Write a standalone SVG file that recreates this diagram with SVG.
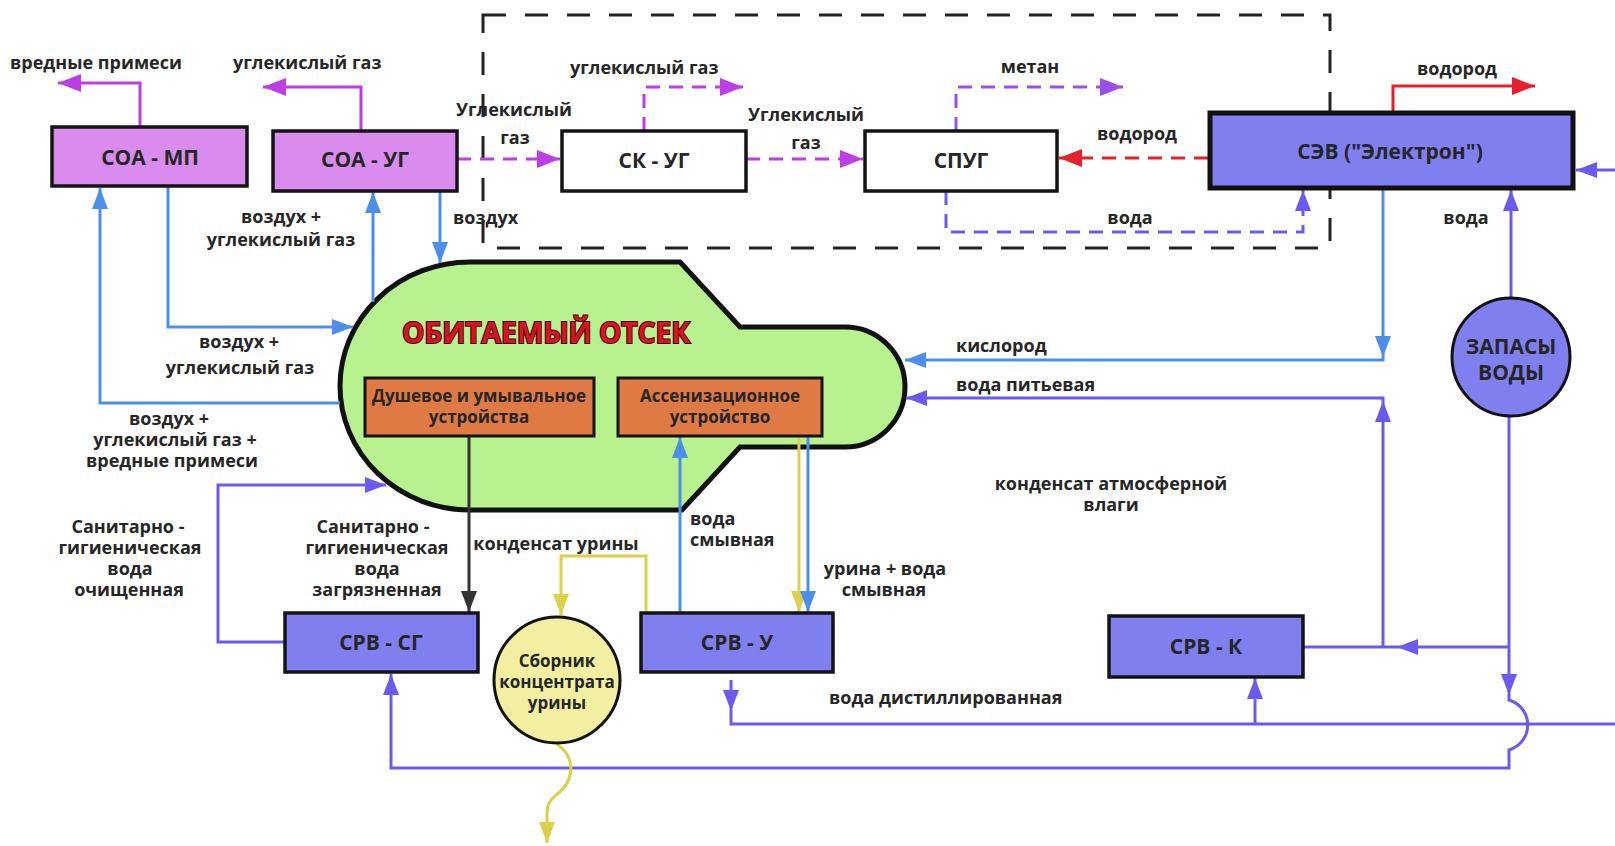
<svg xmlns="http://www.w3.org/2000/svg" width="1615" height="846" viewBox="0 0 1615 846">
<style>
text{font-family:"Open Sans","Liberation Sans",sans-serif;font-weight:700;fill:#262626}
.lb{font-size:18px}
.bx{font-size:21px;text-anchor:middle}
.sm{font-size:17px;text-anchor:middle}
.c{text-anchor:middle}
.ln{fill:none;stroke-width:3}
.mg{stroke:#BC3FE6}
.vd{stroke:#9B4FEA}
.bl{stroke:#4B8FEA}
.vi{stroke:#6A5AF0}
.rd{stroke:#E4202C}
.ye{stroke:#DCD04A}
.bk{stroke:#333}
.ds{stroke-dasharray:14 9}
.box{stroke:#141414;stroke-width:3.5}
.soa{fill:#D98CEE}
.srv{fill:#7F7FF0}
.org{fill:#E07A45;stroke:#141414;stroke-width:3}
</style>
<defs>
<marker id="aM" markerUnits="userSpaceOnUse" markerWidth="24" markerHeight="18" refX="23" refY="9" orient="auto"><path d="M0,0L23,9L0,18z" fill="#BC3FE6"/></marker>
<marker id="aV" markerUnits="userSpaceOnUse" markerWidth="24" markerHeight="18" refX="23" refY="9" orient="auto"><path d="M0,0L23,9L0,18z" fill="#9B4FEA"/></marker>
<marker id="aB" markerUnits="userSpaceOnUse" markerWidth="22" markerHeight="16" refX="21" refY="8" orient="auto"><path d="M0,0L21,8L0,16z" fill="#4B8FEA"/></marker>
<marker id="aI" markerUnits="userSpaceOnUse" markerWidth="22" markerHeight="16" refX="21" refY="8" orient="auto"><path d="M0,0L21,8L0,16z" fill="#6A5AF0"/></marker>
<marker id="aR" markerUnits="userSpaceOnUse" markerWidth="24" markerHeight="18" refX="23" refY="9" orient="auto"><path d="M0,0L23,9L0,18z" fill="#E4202C"/></marker>
<marker id="aY" markerUnits="userSpaceOnUse" markerWidth="22" markerHeight="16" refX="21" refY="8" orient="auto"><path d="M0,0L21,8L0,16z" fill="#DCD04A"/></marker>
<marker id="aK" markerUnits="userSpaceOnUse" markerWidth="22" markerHeight="16" refX="21" refY="8" orient="auto"><path d="M0,0L21,8L0,16z" fill="#333"/></marker>
</defs>
<rect width="1615" height="846" fill="#fff"/>
<rect id="boundary" x="483" y="15" width="847" height="233" fill="none" stroke="#222" stroke-width="3" stroke-dasharray="23 19"/>

<g id="habitat">
<path d="M470,262 L680,262 L740,327 L845,327 A60,60 0 0 1 845,447 L740,447 L682,510 L470,510 A130,124 0 0 1 470,262 Z" fill="#B7F28F" stroke="#111" stroke-width="5"/>
<text x="546" y="343" font-size="28" font-weight="800" textLength="288" lengthAdjust="spacingAndGlyphs" text-anchor="middle" style="fill:#D9141E;stroke:#3a0505;stroke-width:2;paint-order:stroke">ОБИТАЕМЫЙ ОТСЕК</text>
</g>

<g id="connectors">
<path class="ln mg" d="M140,127V83H58" marker-end="url(#aM)"/>
<path class="ln mg" d="M361,131V87H263" marker-end="url(#aM)"/>
<path class="ln mg ds" d="M457,159H560" marker-end="url(#aM)"/>
<path class="ln mg ds" d="M644,131V87H743" marker-end="url(#aM)"/>
<path class="ln mg ds" d="M746,159H863" marker-end="url(#aM)"/>
<path class="ln vd ds" d="M956,131V87H1123" marker-end="url(#aV)"/>
<path class="ln rd ds" d="M1208,158H1059" marker-end="url(#aR)"/>
<path class="ln rd" d="M1393,113V86H1535" marker-end="url(#aR)"/>
<path class="ln vi ds" d="M946,191V232H1303V190" marker-end="url(#aI)"/>
<path class="ln bl" d="M1383,188V360H905" marker-end="url(#aB)"/>
<path d="M1375,336L1391,336L1383,357z" fill="#4B8FEA"/>
<path class="ln vi" d="M1511,298V190" marker-end="url(#aI)"/>
<path class="ln vi" d="M1615,170H1576" marker-end="url(#aI)"/>
<path class="ln vi" d="M1509,417V700C1534,708 1534,742 1509,750V768H391V674" marker-end="url(#aI)"/>
<path d="M1501,674L1517,674L1509,695z" fill="#6A5AF0"/>
<path class="ln vi" d="M1303,647H1509"/>
<path d="M1397,647L1418,639L1418,655z" fill="#6A5AF0"/>
<path class="ln vi" d="M1383,647V398H906" marker-end="url(#aI)"/>
<path d="M1383,401L1375,422L1391,422z" fill="#6A5AF0"/>
<path class="ln vi" d="M731,680V724H1615"/>
<path d="M723,690L739,690L731,711z" fill="#6A5AF0"/>
<path class="ln vi" d="M1255,724V678" marker-end="url(#aI)"/>
<path class="ln vi" d="M285,642H218V485H386" marker-end="url(#aI)"/>
<path class="ln bl" d="M168,186V327H353" marker-end="url(#aB)"/>
<path class="ln bl" d="M340,403H100V188" marker-end="url(#aB)"/>
<path class="ln bl" d="M373,302V192" marker-end="url(#aB)"/>
<path class="ln bl" d="M440,191V263" marker-end="url(#aB)"/>
<path class="ln bk" d="M469,436V612" marker-end="url(#aK)"/>
<path class="ln bl" d="M680,613V437" marker-end="url(#aB)"/>
<path class="ln ye" d="M799,436V612" marker-end="url(#aY)"/>
<path class="ln bl" d="M808,436V612" marker-end="url(#aB)"/>
<path class="ln ye" d="M646,613V556H561V615" marker-end="url(#aY)"/>
<path class="ln ye" d="M557,744C577,758 574,782 556,795C546,803 547,810 547,820V843" marker-end="url(#aY)"/>
</g>

<g id="labels">
<text class="lb" x="10" y="69">вредные примеси</text>
<text class="lb" x="233" y="69">углекислый газ</text>
<text class="lb c" x="281" y="223">воздух +<tspan x="281" dy="23">углекислый газ</tspan></text>
<text class="lb" x="453" y="224">воздух</text>
<text class="lb c" x="514" y="116">Углекислый<tspan x="515" dy="28">газ</tspan></text>
<text class="lb" x="570" y="74">углекислый газ</text>
<text class="lb c" x="806" y="121">Углекислый<tspan x="806" dy="28">газ</tspan></text>
<text class="lb c" x="1030" y="73">метан</text>
<text class="lb c" x="1137" y="140">водород</text>
<text class="lb c" x="1457" y="75">водород</text>
<text class="lb c" x="1130" y="224">вода</text>
<text class="lb c" x="1466" y="224">вода</text>
<text class="lb" x="956" y="352">кислород</text>
<text class="lb" x="956" y="391">вода питьевая</text>
<text class="lb c" x="1111" y="490">конденсат атмосферной<tspan x="1111" dy="21">влаги</tspan></text>
<text class="lb c" x="239" y="348">воздух +<tspan x="240" dy="26">углекислый газ</tspan></text>
<text class="lb c" x="169" y="425">воздух +<tspan x="175" dy="21">углекислый газ +</tspan><tspan x="172" dy="21">вредные примеси</tspan></text>
<text class="lb c" x="128" y="533">Санитарно -<tspan x="130" dy="21">гигиеническая</tspan><tspan x="130" dy="21">вода</tspan><tspan x="129" dy="21">очищенная</tspan></text>
<text class="lb c" x="373" y="533">Санитарно -<tspan x="377" dy="21">гигиеническая</tspan><tspan x="377" dy="21">вода</tspan><tspan x="377" dy="21">загрязненная</tspan></text>
<text class="lb c" x="556" y="550">конденсат урины</text>
<text class="lb" x="690" y="525">вода<tspan x="690" dy="21">смывная</tspan></text>
<text class="lb c" x="885" y="575">урина + вода<tspan x="884" dy="21">смывная</tspan></text>
<text class="lb" x="829" y="704">вода дистиллированная</text>
</g>

<g id="soa-mp"><rect class="box soa" x="52" y="127" width="195" height="59"/><text class="bx" x="150" y="165">СОА - МП</text></g>
<g id="soa-ug"><rect class="box soa" x="273" y="131" width="184" height="60"/><text class="bx" x="365" y="167">СОА - УГ</text></g>
<g id="sk-ug"><rect class="box" fill="#fff" x="562" y="131" width="184" height="60"/><text class="bx" x="654" y="168">СК - УГ</text></g>
<g id="spug"><rect class="box" fill="#fff" x="865" y="131" width="192" height="60"/><text class="bx" x="961" y="168">СПУГ</text></g>
<g id="sev"><rect class="srv" stroke="#111" stroke-width="5" x="1210" y="113" width="363" height="75"/><text class="bx" x="1390" y="159">СЭВ ("Электрон")</text></g>
<g id="shower"><rect class="org" x="365" y="378" width="229" height="58"/><text class="sm" x="479" y="402">Душевое и умывальное<tspan x="479" dy="21">устройства</tspan></text></g>
<g id="toilet"><rect class="org" x="618" y="378" width="204" height="58"/><text class="sm" x="720" y="402">Ассенизационное<tspan x="720" dy="21">устройство</tspan></text></g>
<g id="srv-sg"><rect class="box srv" x="285" y="613" width="193" height="59"/><text class="bx" x="381" y="650">СРВ - СГ</text></g>
<g id="srv-u"><rect class="box srv" x="641" y="613" width="192" height="59"/><text class="bx" x="737" y="650">СРВ - У</text></g>
<g id="srv-k"><rect class="box srv" x="1109" y="616" width="194" height="61"/><text class="bx" x="1206" y="654">СРВ - К</text></g>
<g id="collector"><circle cx="557" cy="680" r="63" fill="#F2F0A0" stroke="#111" stroke-width="3"/><text class="sm" x="557" y="667">Сборник<tspan x="557" dy="21">концентрата</tspan><tspan x="557" dy="21">урины</tspan></text></g>
<g id="water-store"><circle cx="1511" cy="357" r="59" fill="#7F7FF0" stroke="#111" stroke-width="3"/><text class="bx" x="1511" y="354">ЗАПАСЫ<tspan x="1511" dy="26">ВОДЫ</tspan></text></g>
</svg>
